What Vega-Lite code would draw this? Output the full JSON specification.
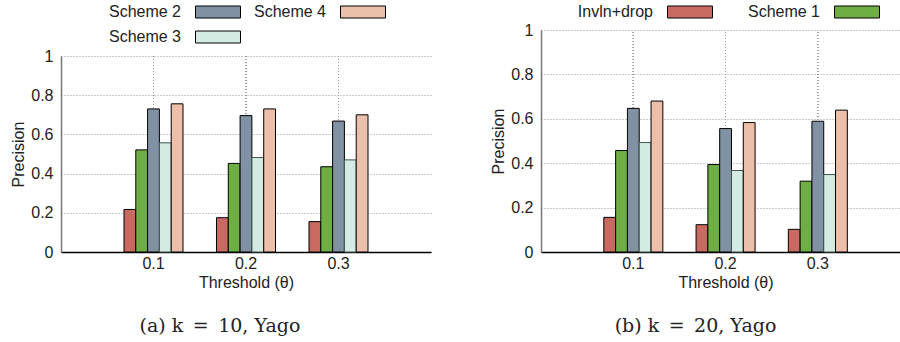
{
  "$schema": "https://vega.github.io/schema/vega-lite/v6.json",
  "padding": {"left": 10, "top": 4, "right": 0, "bottom": 0},
  "background": "white",
  "config": {
    "font": "Liberation Sans",
    "view": {"stroke": null},
    "axis": {"labelFontSize": 16, "titleFontSize": 16, "titleFontWeight": "normal", "labelColor": "#222", "titleColor": "#222", "labelFont": "Liberation Sans", "titleFont": "Liberation Sans"},
    "title": {"font": "DejaVu Serif", "fontSize": 19, "fontWeight": "normal", "color": "#222"},
    "legend": {"orient": "none", "direction": "horizontal", "title": null, "labelFontSize": 16, "labelFont": "Liberation Sans", "labelColor": "#222", "symbolType": "M-3.75,-1L3.75,-1L3.75,1L-3.75,1Z", "symbolSize": 144, "symbolStrokeColor": "black", "symbolStrokeWidth": 1, "symbolOpacity": 1, "labelAlign": "right", "labelOffset": -45, "symbolOffset": 28, "columnPadding": 15, "rowPadding": 9}
  },
  "datasets": {
    "d": [
      {"panel": "a", "threshold": "0.1", "scheme": "Invln+drop", "precision": 0.217},
      {"panel": "a", "threshold": "0.1", "scheme": "Scheme 1", "precision": 0.521},
      {"panel": "a", "threshold": "0.1", "scheme": "Scheme 2", "precision": 0.730},
      {"panel": "a", "threshold": "0.1", "scheme": "Scheme 3", "precision": 0.557},
      {"panel": "a", "threshold": "0.1", "scheme": "Scheme 4", "precision": 0.756},
      {"panel": "a", "threshold": "0.2", "scheme": "Invln+drop", "precision": 0.175},
      {"panel": "a", "threshold": "0.2", "scheme": "Scheme 1", "precision": 0.452},
      {"panel": "a", "threshold": "0.2", "scheme": "Scheme 2", "precision": 0.696},
      {"panel": "a", "threshold": "0.2", "scheme": "Scheme 3", "precision": 0.482},
      {"panel": "a", "threshold": "0.2", "scheme": "Scheme 4", "precision": 0.730},
      {"panel": "a", "threshold": "0.3", "scheme": "Invln+drop", "precision": 0.155},
      {"panel": "a", "threshold": "0.3", "scheme": "Scheme 1", "precision": 0.435},
      {"panel": "a", "threshold": "0.3", "scheme": "Scheme 2", "precision": 0.668},
      {"panel": "a", "threshold": "0.3", "scheme": "Scheme 3", "precision": 0.470},
      {"panel": "a", "threshold": "0.3", "scheme": "Scheme 4", "precision": 0.700},
      {"panel": "b", "threshold": "0.1", "scheme": "Invln+drop", "precision": 0.156},
      {"panel": "b", "threshold": "0.1", "scheme": "Scheme 1", "precision": 0.457},
      {"panel": "b", "threshold": "0.1", "scheme": "Scheme 2", "precision": 0.647},
      {"panel": "b", "threshold": "0.1", "scheme": "Scheme 3", "precision": 0.493},
      {"panel": "b", "threshold": "0.1", "scheme": "Scheme 4", "precision": 0.680},
      {"panel": "b", "threshold": "0.2", "scheme": "Invln+drop", "precision": 0.123},
      {"panel": "b", "threshold": "0.2", "scheme": "Scheme 1", "precision": 0.394},
      {"panel": "b", "threshold": "0.2", "scheme": "Scheme 2", "precision": 0.556},
      {"panel": "b", "threshold": "0.2", "scheme": "Scheme 3", "precision": 0.367},
      {"panel": "b", "threshold": "0.2", "scheme": "Scheme 4", "precision": 0.583},
      {"panel": "b", "threshold": "0.3", "scheme": "Invln+drop", "precision": 0.102},
      {"panel": "b", "threshold": "0.3", "scheme": "Scheme 1", "precision": 0.319},
      {"panel": "b", "threshold": "0.3", "scheme": "Scheme 2", "precision": 0.589},
      {"panel": "b", "threshold": "0.3", "scheme": "Scheme 3", "precision": 0.349},
      {"panel": "b", "threshold": "0.3", "scheme": "Scheme 4", "precision": 0.639}
    ]
  },
  "spacing": 59,
  "resolve": {"scale": {"color": "independent"}, "legend": {"color": "independent"}},
  "hconcat": [
    {
      "width": 370,
      "height": 222,
      "data": {"name": "d"},
      "transform": [{"filter": "datum.panel == 'a'"}],
      "title": {"text": "(a) k\u2002=\u200210, Yago", "orient": "bottom", "dx": -26, "offset": 27},
      "encoding": {
        "x": {"field": "threshold", "type": "nominal", "scale": {"paddingInner": 0.362, "paddingOuter": 0.681},
          "axis": {"title": "Threshold (θ)", "labelAngle": 0, "grid": false, "ticks": false, "domainColor": "black", "domainWidth": 1.5, "labelPadding": 3, "titlePadding": 3}}
      },
      "layer": [
        {
          "mark": {"type": "rule", "color": "#999", "strokeDash": [1, 2], "strokeWidth": 1},
          "encoding": {
            "x": {"field": "threshold", "type": "nominal", "bandPosition": 0.5},
            "y": {"datum": 0, "type": "quantitative", "scale": {"domain": [0, 1], "nice": false, "range": [222, 26]},
              "axis": {"title": "Precision", "values": [0, 0.2, 0.4, 0.6, 0.8, 1], "format": "~g", "grid": true, "gridColor": "#999", "gridDash": [1, 2], "domainColor": "#777", "domainWidth": 1.5, "ticks": false, "labelPadding": 8, "titlePadding": 4}},
            "y2": {"datum": 1}
          }
        },
        {
          "mark": {"type": "bar", "strokeWidth": 1},
          "encoding": {
            "xOffset": {"field": "scheme", "type": "nominal", "sort": ["Invln+drop", "Scheme 1", "Scheme 2", "Scheme 3", "Scheme 4"], "scale": {"paddingInner": 0, "paddingOuter": 0}},
            "y": {"field": "precision", "type": "quantitative",
              "axis": {"title": "Precision", "values": [0, 0.2, 0.4, 0.6, 0.8, 1], "format": "~g", "grid": true, "gridColor": "#999", "gridDash": [1, 2], "domainColor": "#777", "domainWidth": 1.5, "ticks": false, "labelPadding": 8, "titlePadding": 4}},
            "stroke": {"condition": {"test": "datum.scheme == 'Scheme 3'", "value": "#3f5552"}, "value": "black"},
            "color": {"field": "scheme", "type": "nominal",
              "scale": {"domain": ["Invln+drop", "Scheme 1", "Scheme 2", "Scheme 3", "Scheme 4"], "range": ["#c96a62", "#6fae45", "#8091a3", "#d4ebe4", "#ebbfa9"]},
              "legend": {"values": ["Scheme 2", "Scheme 4", "Scheme 3"], "columns": 2, "columnPadding": 10, "legendX": 121, "legendY": -26}}
          }
        }
      ]
    },
    {
      "width": 369,
      "height": 222,
      "data": {"name": "d"},
      "transform": [{"filter": "datum.panel == 'b'"}],
      "title": {"text": "(b) k\u2002=\u200220, Yago", "orient": "bottom", "dx": -30, "offset": 27},
      "encoding": {
        "x": {"field": "threshold", "type": "nominal", "scale": {"paddingInner": 0.362, "paddingOuter": 0.681},
          "axis": {"title": "Threshold (θ)", "labelAngle": 0, "grid": false, "ticks": false, "domainColor": "black", "domainWidth": 1.5, "labelPadding": 3, "titlePadding": 3}}
      },
      "layer": [
        {
          "mark": {"type": "rule", "color": "#999", "strokeDash": [1, 2], "strokeWidth": 1},
          "encoding": {
            "x": {"field": "threshold", "type": "nominal", "bandPosition": 0.5},
            "y": {"datum": 0, "type": "quantitative", "scale": {"domain": [0, 1], "nice": false},
              "axis": {"title": "Precision", "values": [0, 0.2, 0.4, 0.6, 0.8, 1], "format": "~g", "grid": true, "gridColor": "#999", "gridDash": [1, 2], "domainColor": "#777", "domainWidth": 1.5, "ticks": false, "labelPadding": 8, "titlePadding": 4}},
            "y2": {"datum": 1}
          }
        },
        {
          "mark": {"type": "bar", "strokeWidth": 1},
          "encoding": {
            "xOffset": {"field": "scheme", "type": "nominal", "sort": ["Invln+drop", "Scheme 1", "Scheme 2", "Scheme 3", "Scheme 4"], "scale": {"paddingInner": 0, "paddingOuter": 0}},
            "y": {"field": "precision", "type": "quantitative",
              "axis": {"title": "Precision", "values": [0, 0.2, 0.4, 0.6, 0.8, 1], "format": "~g", "grid": true, "gridColor": "#999", "gridDash": [1, 2], "domainColor": "#777", "domainWidth": 1.5, "ticks": false, "labelPadding": 8, "titlePadding": 4}},
            "stroke": {"condition": {"test": "datum.scheme == 'Scheme 3'", "value": "#3f5552"}, "value": "black"},
            "color": {"field": "scheme", "type": "nominal",
              "scale": {"domain": ["Invln+drop", "Scheme 1", "Scheme 2", "Scheme 3", "Scheme 4"], "range": ["#c96a62", "#6fae45", "#8091a3", "#d4ebe4", "#ebbfa9"]},
              "legend": {"values": ["Invln+drop", "Scheme 1"], "columns": 2, "columnPadding": 32, "legendX": 113, "legendY": -26}}
          }
        }
      ]
    }
  ]
}
